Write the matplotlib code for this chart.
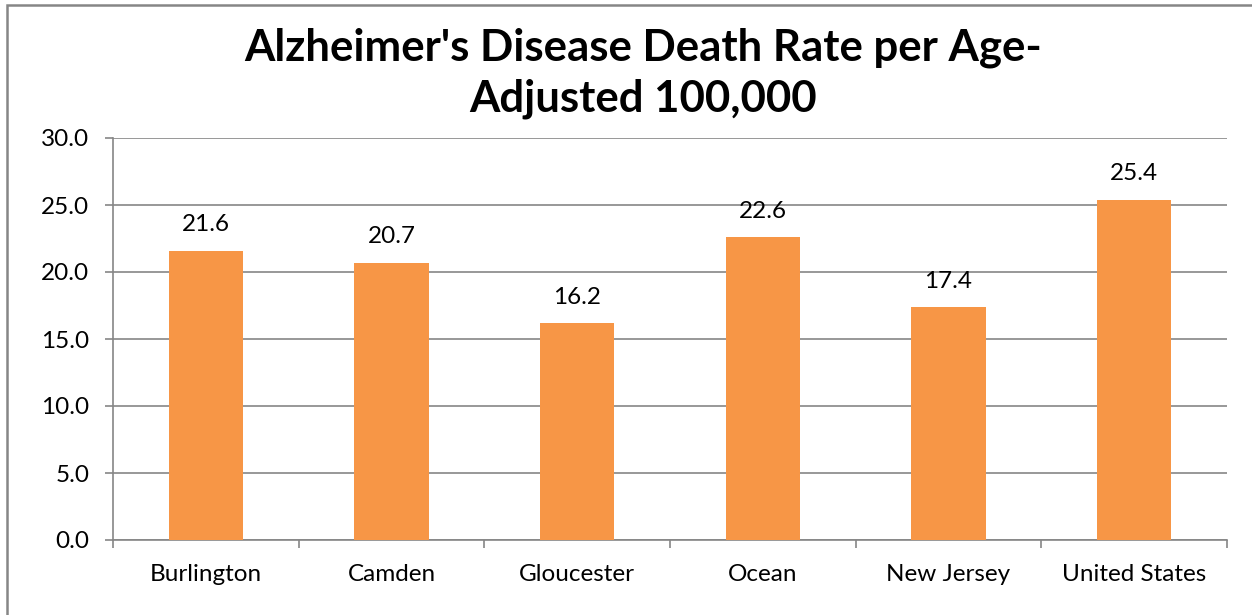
import matplotlib
matplotlib.use("Agg")
import matplotlib.pyplot as plt
from matplotlib.patches import Rectangle

categories = ["Burlington", "Camden", "Gloucester", "Ocean", "New Jersey", "United States"]
values = [21.6, 20.7, 16.2, 22.6, 17.4, 25.4]
yticks = [0, 5, 10, 15, 20, 25, 30]
title = "Alzheimer's Disease Death Rate per Age-\nAdjusted 100,000"

plt.rcParams['font.family'] = ['Lato', 'DejaVu Sans']

fig = plt.figure(figsize=(12.52, 6.15), dpi=100)
W, H = 1252, 615
ax = fig.add_axes([113 / W, 1 - 540 / H, (1227 - 113) / W, (540 - 138) / H])

x = list(range(len(categories)))
ax.bar(x, values, width=0.40, color="#F79646", zorder=3)
for xi, v in zip(x, values):
    ax.annotate(f"{v:.1f}", (xi, v), xytext=(0, 11), textcoords="offset points",
                ha="center", va="bottom", fontsize=17.5, color="black")

ax.set_xlim(-0.5, len(categories) - 0.5)
ax.set_ylim(0, 30)
ax.set_yticks(yticks)
ax.set_yticklabels([f"{t:.1f}" for t in yticks], fontsize=17.5)
ax.yaxis.grid(True, color="#868686", linewidth=1.2, zorder=0)
ax.set_xticks(x)
ax.set_xticklabels(categories, fontsize=17.5)
ax.set_xticks([i - 0.5 for i in range(len(categories) + 1)], minor=True)
ax.tick_params(axis="x", which="major", length=0, pad=17)
ax.tick_params(axis="x", which="minor", length=6, width=1.2, color="#868686", direction="out")
ax.tick_params(axis="y", length=6, width=1.2, color="#868686", direction="out", pad=11)
for s in ["top", "right"]:
    ax.spines[s].set_visible(False)
for s in ["left", "bottom"]:
    ax.spines[s].set_color("#868686")
    ax.spines[s].set_linewidth(1.2)

fig.text(643 / W, 1 - 73 / H, title, ha="center", va="center",
         fontsize=31.5, fontweight="bold", linespacing=1.33)

fig.patches.append(Rectangle((7 / W, -10 / H), (1270 - 7) / W, (610 - -10) / H,
                             transform=fig.transFigure, fill=False,
                             edgecolor="#868686", linewidth=1.8, clip_on=False))

fig.savefig("out.png", dpi=100)
